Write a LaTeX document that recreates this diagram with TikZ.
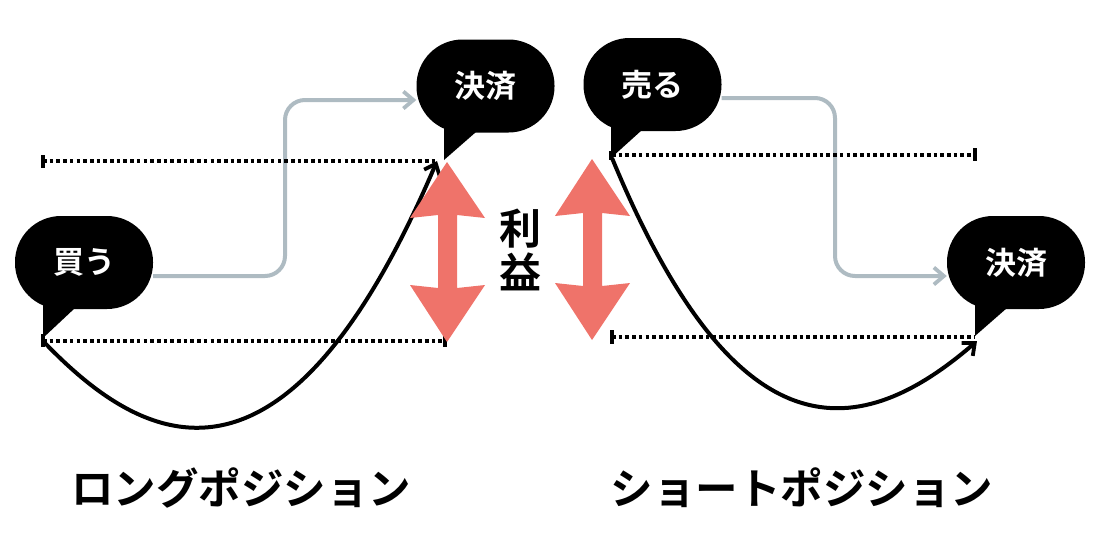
\documentclass[tikz,border=0pt]{standalone}
\usepackage{fontspec}
\usetikzlibrary{arrows.meta}
\setmainfont{Noto Sans CJK JP}[BoldFont={* Bold}]
\definecolor{greyline}{HTML}{AEBBC2}
\definecolor{salmon}{HTML}{EF736A}
\tikzset{
  bubble/.style={fill=black,text=white,rounded corners=46pt,minimum width=138pt,minimum height=93pt,inner sep=0pt,font=\bfseries\fontsize{31}{31}\selectfont},
  tailshape/.style={fill=black,draw=none},
  greyconn/.style={draw=greyline,line width=4pt,rounded corners=20pt,-{Straight Barb[length=10pt,width=17pt,line width=3.8pt]}},
  dotline/.style={line width=4.4pt,dash pattern=on 3.6pt off 3.1pt},
  endbar/.style={line width=3.8pt},
  curveconn/.style={line width=4pt,-{Straight Barb[length=10pt,width=17pt,line width=3.8pt]}},
  salmonarrow/.style={fill=salmon,draw=none},
  bigtext/.style={font=\bfseries\fontsize{42}{42}\selectfont,inner sep=0pt},
  title/.style={font=\bfseries\fontsize{42.5}{42.5}\selectfont,inner sep=0pt},
}
\begin{document}
\begin{tikzpicture}[x=1pt,y=-1pt]
\useasboundingbox (0,0) rectangle (1100,550);
% bubble anchors
\node[bubble] (buy) at (84,262.5) {\raisebox{-2pt}{買う}};
\node[bubble] (close1) at (485.5,86) {\raisebox{-2pt}{決済}};
\node[bubble] (sell) at (652.5,84.5) {\raisebox{-2pt}{売る}};
\node[bubble] (close2) at (1016,262.5) {\raisebox{-2pt}{決済}};
% free ends
\coordinate (a1) at (43,341); \coordinate (a2) at (445,341);
\coordinate (b1) at (43,161); \coordinate (b2) at (437,161);
\coordinate (c1) at (612,155); \coordinate (c2) at (975,155);
\coordinate (d1) at (612,337); \coordinate (d2) at (975,337);
% tails
\fill[tailshape] (43,295) -- (43,338) -- (75,308) -- (75,295) -- cycle;
\fill[tailshape] (444,120) -- (444,160) -- (476,132) -- (476,120) -- cycle;
\fill[tailshape] (611,120) -- (611,158) -- (642,130) -- (642,120) -- cycle;
\fill[tailshape] (975,295) -- (975,336) -- (1007,308) -- (1007,295) -- cycle;
% grey connectors
\draw[greyconn] (buy.east) ++(0,13.5) -- (285,276) -- (285,100) -- (close1.west |- 0,100);
\draw[greyconn] (sell.east) ++(0,13.5) -- (835,98) -- (835,276) -- (close2.west |- 0,276);
% dotted lines
\draw[dotline] (b1) -- (b2);
\draw[endbar] (43,155) -- (43,168);
\draw[dotline] (a1) -- (a2);
\draw[endbar] (43,334) -- (43,347);
\draw[endbar] (445,335) -- (445,347);
\draw[dotline] (c1) -- (c2);
\draw[endbar] (975,148) -- (975,161);
\draw[endbar] (611,151) -- (611,160);
\draw[dotline] (d1) -- (d2);
\draw[endbar] (612,330) -- (612,344);
% curves
\draw[curveconn] (a1) .. controls (136,438) and (280,530) .. (437,161);
\draw[curveconn] (612,158) .. controls (732,448) and (851,450) .. (977,341);
% salmon arrows
\fill[salmonarrow] (447,162) -- (485,218) -- (457,215) -- (457,288) -- (485,285) -- (447,342) -- (410,285) -- (438,288) -- (438,215) -- (410,218) -- cycle;
\fill[salmonarrow] (592,159) -- (630,216) -- (602,213) -- (602,286) -- (630,283) -- (592,340) -- (555,283) -- (583,286) -- (583,213) -- (555,216) -- cycle;
% texts
\node[bigtext] (t1) at (520,229) {利};
\node[bigtext] (t2) at (520,272) {益};
\node[title] (long) at (241,488) {ロングポジション};
\node[title] (short) at (802,488) {ショートポジション};
\end{tikzpicture}
\end{document}
